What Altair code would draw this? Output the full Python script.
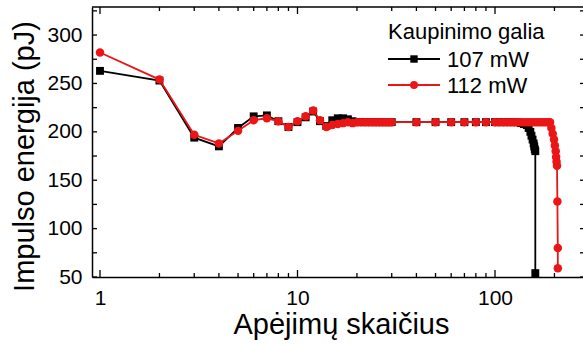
import altair as alt
import pandas as pd

# Pulse energy vs. number of round trips for two pump powers
series_names = ["107 mW", "112 mW"]
series_colors = ["#000000", "#ec1515"]
series_shapes = ["square", "circle"]

trips_107 = [1, 2, 3, 4, 5, 6, 7, 8, 9, 10, 11, 12, 13, 14, 15, 16, 17, 18, 19,
             20, 21, 22, 23, 24, 25, 26, 27, 28, 29, 30, 40, 50, 60, 70, 80, 90, 100,
             105, 110, 115, 120, 125, 130, 135, 140, 145, 148, 151, 153, 155, 157,
             158, 159, 160, 160]
energy_107 = [263, 253, 194, 185, 204, 216, 217, 211, 205, 210, 215, 221, 211, 206,
              212, 214, 214, 213, 211, 210, 210, 210, 210, 210, 210, 210, 210, 210,
              210, 210, 210, 210, 210, 210, 210, 210, 210, 210, 210, 210, 210, 210,
              210, 209, 208, 207, 204, 200, 196, 192, 188, 185, 182, 180, 54]

trips_112 = [1, 2, 3, 4, 5, 6, 7, 8, 9, 10, 11, 12, 13, 14, 15, 16, 17, 18, 19,
             20, 21, 22, 23, 24, 25, 26, 27, 28, 29, 30, 40, 50, 60, 70, 80, 90, 100,
             105, 110, 115, 120, 125, 130, 135, 140, 145, 150, 155, 160, 165, 170,
             175, 180, 185, 190, 193, 196, 199, 201, 203, 204, 205, 206, 207, 208, 208]
energy_112 = [282, 254, 197, 188, 201, 212, 214, 211, 205, 211, 216, 222, 212, 205,
              207, 208, 209, 210, 209, 210, 210, 210, 210, 210, 210, 210, 210, 210,
              210, 210, 210, 210, 210, 210, 210, 210, 210, 210, 210, 210, 210, 210,
              210, 210, 210, 210, 210, 210, 210, 210, 210, 210, 210, 210, 210, 204,
              198, 192, 186, 180, 174, 169, 165, 128, 80, 59]

x_major = [1, 10, 100]
x_minor = [2, 3, 4, 5, 6, 7, 8, 9, 20, 30, 40, 50, 60, 70, 80, 90, 200]
y_labels = [50, 100, 150, 200, 250, 300]
y_ticks = [50, 75, 100, 125, 150, 175, 200, 225, 250, 275, 300, 325]

legend_title = "Kaupinimo galia"
x_title = "Apėjimų skaičius"
y_title = "Impulso energija (pJ)"

FONT = "Liberation Sans"
W, H = 491, 270

xscale = alt.Scale(type="log", domain=[0.911, 279], nice=False)
yscale = alt.Scale(domain=[50, 329], nice=False, zero=False)

x_axis = alt.Axis(values=x_major, format="d", ticks=False, tickSize=0, grid=False,
                  domainColor="black", domainWidth=1.5, labelFont=FONT,
                  labelFontSize=21, labelColor="black", labelPadding=27,
                  labelBaseline="alphabetic", labelFlush=False,
                  title=x_title, titleFont=FONT, titleFontSize=29,
                  titleFontWeight="normal", titleColor="black",
                  titleX=249, titleY=56, titleBaseline="alphabetic")
y_axis = alt.Axis(values=y_labels, ticks=False, tickSize=0, grid=False,
                  domainColor="black", domainWidth=1.5, labelFont=FONT,
                  labelFontSize=21, labelColor="black", labelPadding=10,
                  labelFlush=False,
                  title=y_title, titleFont=FONT, titleFontSize=29,
                  titleFontWeight="normal", titleColor="black",
                  titleX=-59, titleY=149, titleAngle=-90,
                  titleBaseline="alphabetic")


def X(field):
    return alt.X(field, scale=xscale, axis=x_axis)


def Y(field):
    return alt.Y(field, scale=yscale, axis=y_axis)


frames = []
for name, xs, ys in [(series_names[0], trips_107, energy_107),
                     (series_names[1], trips_112, energy_112)]:
    frames.append(pd.DataFrame({"series": name, "trips": xs, "energy": ys,
                                "i": range(len(xs))}))

layers = []
for k, df in enumerate(frames):
    base = alt.Chart(df)
    layers.append(base.mark_line(color=series_colors[k], strokeWidth=1.8).encode(
        x=X("trips:Q"), y=Y("energy:Q"), order="i:Q"))
    layers.append(base.mark_point(filled=True, opacity=1, color=series_colors[k],
                                  shape=series_shapes[k],
                                  size=62 if k == 0 else 72).encode(
        x=X("trips:Q"), y=Y("energy:Q")))

# frame top edge
layers.append(alt.Chart(pd.DataFrame({"a": [0]})).mark_rule(
    color="black", strokeWidth=1.5).encode(
    x=alt.value(0), x2=alt.value(W), y=alt.value(0)))

# inward ticks on all four sides
xmaj = alt.Chart(pd.DataFrame({"v": x_major}))
xmin = alt.Chart(pd.DataFrame({"v": x_minor}))
ytk = alt.Chart(pd.DataFrame({"v": y_ticks}))
tick = dict(color="black", strokeWidth=1.3)
layers += [
    xmaj.mark_rule(**tick).encode(x=X("v:Q"), y=alt.value(H), y2=alt.value(H - 7)),
    xmin.mark_rule(**tick).encode(x=X("v:Q"), y=alt.value(H), y2=alt.value(H - 4)),
    xmaj.mark_rule(**tick).encode(x=X("v:Q"), y=alt.value(0), y2=alt.value(7)),
    xmin.mark_rule(**tick).encode(x=X("v:Q"), y=alt.value(0), y2=alt.value(4)),
    ytk.mark_rule(**tick).encode(y=Y("v:Q"), x=alt.value(0), x2=alt.value(5)),
    ytk.mark_rule(**tick).encode(y=Y("v:Q"), x=alt.value(W - 3), x2=alt.value(W)),
]

# legend
layers.append(alt.Chart(pd.DataFrame({"t": [legend_title]})).mark_text(
    align="left", baseline="alphabetic", font=FONT, fontSize=22, color="black").encode(
    text="t:N", x=alt.value(296), y=alt.value(32)))
for k, name in enumerate(series_names):
    row_y = 52 + 26 * k
    one = alt.Chart(pd.DataFrame({"t": [name]}))
    layers.append(one.mark_rule(color=series_colors[k], strokeWidth=1.8).encode(
        x=alt.value(296), x2=alt.value(348), y=alt.value(row_y)))
    layers.append(one.mark_point(filled=True, opacity=1, color=series_colors[k],
                                 shape=series_shapes[k],
                                 size=55 if k == 0 else 62).encode(
        x=alt.value(322), y=alt.value(row_y)))
    layers.append(one.mark_text(align="left", baseline="alphabetic", font=FONT,
                                fontSize=22, color="black").encode(
        text="t:N", x=alt.value(355), y=alt.value(row_y + 8)))

chart = alt.layer(*layers).properties(
    width=W, height=H,
    padding={"left": 92, "top": 7, "right": 0, "bottom": 67},
    autosize=alt.AutoSizeParams(type="none"),
    background="white",
).configure_view(stroke=None)

chart.save("out.html", embed_options={"renderer": "svg", "actions": False})
